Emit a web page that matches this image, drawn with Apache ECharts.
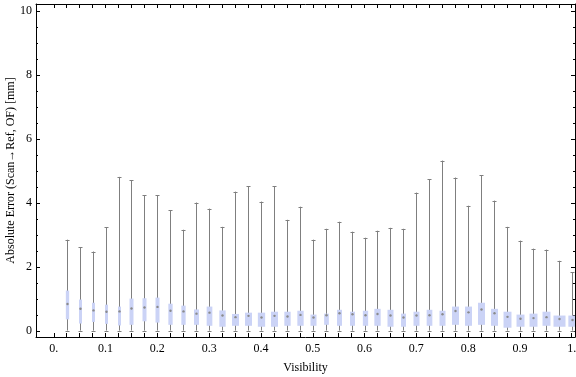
<!DOCTYPE html>
<html>
<head>
<meta charset="utf-8">
<script src="https://cdn.jsdelivr.net/npm/echarts@6.0.0/dist/echarts.min.js"></script>
<style>
  html, body { margin: 0; padding: 0; background: #fff; }
  #chart { width: 576px; height: 377px; }
</style>
</head>
<body>
<div id="chart"></div>
<script>
// Box positions (visibility) and their statistics
const visibility = [0.025, 0.05, 0.075, 0.1, 0.125, 0.15, 0.175, 0.2, 0.225, 0.25,
  0.275, 0.3, 0.325, 0.35, 0.375, 0.4, 0.425, 0.45, 0.475, 0.5,
  0.525, 0.55, 0.575, 0.6, 0.625, 0.65, 0.675, 0.7, 0.725, 0.75,
  0.775, 0.8, 0.825, 0.85, 0.875, 0.9, 0.925, 0.95, 0.975, 1.0];

const whiskerLow = [0.02, 0.02, 0.02, 0.02, 0.02, 0.02, 0.02, 0.02, 0.02, 0.02,
  0.02, 0.02, 0.02, 0.02, 0.02, 0.02, 0.02, 0.02, 0.02, 0.02,
  0.02, 0.02, 0.02, 0.02, 0.02, 0.02, 0.02, 0.02, 0.02, 0.02,
  0.02, 0.02, 0.02, 0.02, 0.02, 0.02, 0.02, 0.02, 0.02, 0.02];

const quartile1 = [0.37, 0.24, 0.29, 0.23, 0.18, 0.20, 0.31, 0.27, 0.20, 0.20,
  0.20, 0.17, 0.14, 0.17, 0.17, 0.14, 0.14, 0.17, 0.17, 0.17,
  0.20, 0.17, 0.17, 0.17, 0.17, 0.14, 0.14, 0.17, 0.17, 0.17,
  0.20, 0.17, 0.20, 0.17, 0.11, 0.14, 0.14, 0.17, 0.14, 0.14];

const median = [0.85, 0.70, 0.65, 0.61, 0.62, 0.71, 0.74, 0.76, 0.64, 0.62,
  0.55, 0.58, 0.49, 0.44, 0.48, 0.43, 0.48, 0.46, 0.51, 0.43,
  0.50, 0.56, 0.53, 0.50, 0.54, 0.49, 0.43, 0.49, 0.50, 0.53,
  0.63, 0.59, 0.68, 0.56, 0.45, 0.39, 0.41, 0.44, 0.38, 0.35];

const quartile3 = [1.27, 0.99, 0.89, 0.83, 0.77, 1.02, 1.03, 1.05, 0.86, 0.80,
  0.68, 0.77, 0.65, 0.54, 0.58, 0.58, 0.61, 0.61, 0.64, 0.52,
  0.55, 0.67, 0.61, 0.64, 0.70, 0.67, 0.55, 0.61, 0.67, 0.64,
  0.77, 0.77, 0.89, 0.70, 0.61, 0.52, 0.55, 0.61, 0.49, 0.49];

const whiskerHigh = [2.86, 2.62, 2.49, 3.24, 4.82, 4.71, 4.24, 4.24, 3.78, 3.17,
  4.02, 3.83, 3.26, 4.36, 4.53, 4.05, 4.53, 3.48, 3.89, 2.86,
  3.20, 3.42, 3.11, 2.92, 3.14, 3.23, 3.20, 4.33, 4.74, 5.33,
  4.80, 3.92, 4.87, 4.08, 3.26, 2.83, 2.58, 2.55, 2.20, 1.85];

// box width in visibility units (varies per box)
const boxWidth = [0.0064, 0.0058, 0.0058, 0.0058, 0.0058, 0.0077, 0.0077, 0.0077, 0.0083, 0.0083,
  0.0097, 0.0110, 0.0122, 0.0135, 0.0135, 0.0141, 0.0135, 0.0122, 0.0122, 0.0116,
  0.0091, 0.0097, 0.0097, 0.0102, 0.0122, 0.0116, 0.0097, 0.0116, 0.0110, 0.0116,
  0.0135, 0.0135, 0.0135, 0.0135, 0.0154, 0.0154, 0.0154, 0.0154, 0.0232, 0.0160];

// Tick labels
const xTickLabels = [0, 0.1, 0.2, 0.3, 0.4, 0.5, 0.6, 0.7, 0.8, 0.9, 1];
const yTickLabels = [0, 2, 4, 6, 8, 10];

const X_MIN = -0.0343, X_MAX = 1.0063;
const Y_MIN = -0.18, Y_MAX = 10.22;

const xMinorTicks = [];
for (let i = 0; i <= 40; i++) xMinorTicks.push(+(i * 0.025).toFixed(3));
const yMinorTicks = [];
for (let i = 1; i < 20; i++) if (i % 4 !== 0) yMinorTicks.push(i * 0.5);

const boxData = visibility.map((v, i) =>
  [v, whiskerLow[i], quartile1[i], median[i], quartile3[i], whiskerHigh[i], boxWidth[i]]);

const FONT = '"Liberation Serif", "DejaVu Serif", serif';
const WHISKER = '#7f7f7f';
const BOX = '#cbd3f6';

function renderBox(params, api) {
  const x = api.value(0);
  const pLo = api.coord([x, api.value(1)]);
  const pQ1 = api.coord([x, api.value(2)]);
  const pMed = api.coord([x, api.value(3)]);
  const pQ3 = api.coord([x, api.value(4)]);
  const pHi = api.coord([x, api.value(5)]);
  const bw = api.size([api.value(6), 0])[0];
  const cx = Math.round(pLo[0]) + 0.5;
  const cap = 2;
  return {
    type: 'group',
    children: [
      { type: 'line', shape: { x1: cx, y1: pLo[1], x2: cx, y2: pHi[1] },
        style: { stroke: WHISKER, lineWidth: 1 } },
      { type: 'line', shape: { x1: cx - cap, y1: Math.round(pHi[1]) + 0.5, x2: cx + cap, y2: Math.round(pHi[1]) + 0.5 },
        style: { stroke: WHISKER, lineWidth: 1 } },
      { type: 'line', shape: { x1: cx - cap, y1: Math.round(pLo[1]) + 0.5, x2: cx + cap, y2: Math.round(pLo[1]) + 0.5 },
        style: { stroke: WHISKER, lineWidth: 1 } },
      { type: 'rect', shape: { x: cx - bw / 2, y: pQ3[1], width: bw, height: pQ1[1] - pQ3[1] },
        style: { fill: BOX } },
      { type: 'circle', shape: { cx: cx, cy: pMed[1], r: 1.2 },
        style: { fill: '#8a8a8a' } }
    ]
  };
}

const chart = echarts.init(document.getElementById('chart'));

const lineStyle = { color: '#000', width: 1 };

const option = {
  animation: false,
  grid: { left: 36, right: 1, top: 4, bottom: 40, outerBoundsMode: 'none', containLabel: false },
  xAxis: [
    {
      type: 'value', position: 'bottom', min: X_MIN, max: X_MAX,
      name: 'Visibility', nameLocation: 'middle', nameGap: 25, nameMoveOverlap: false,
      nameTextStyle: { fontFamily: FONT, fontSize: 12, color: '#000' },
      axisLine: { show: true, onZero: false, lineStyle: lineStyle },
      axisTick: { show: true, inside: true, length: 4, customValues: xMinorTicks, lineStyle: lineStyle },
      axisLabel: {
        customValues: xTickLabels, margin: 6,
        fontFamily: FONT, fontSize: 12, color: '#000',
        formatter: v => (v === 0 ? '0.' : v === 1 ? '1.' : v.toFixed(1))
      },
      splitLine: { show: false }
    },
    {
      type: 'value', position: 'top', min: X_MIN, max: X_MAX,
      axisLine: { show: true, onZero: false, lineStyle: lineStyle },
      axisTick: { show: true, inside: true, length: 4, customValues: xMinorTicks, lineStyle: lineStyle },
      axisLabel: { show: false },
      splitLine: { show: false }
    }
  ],
  yAxis: [
    {
      type: 'value', position: 'left', offset: 0, min: Y_MIN, max: Y_MAX,
      name: 'Absolute Error (Scan\u2192Ref, OF) [mm]', nameLocation: 'middle', nameGap: 19, nameMoveOverlap: false,
      nameTextStyle: { fontFamily: FONT, fontSize: 12, color: '#000' },
      axisLine: { show: true, onZero: false, lineStyle: lineStyle },
      axisTick: { show: true, inside: true, length: 4, customValues: yTickLabels, lineStyle: lineStyle },
      axisLabel: { customValues: yTickLabels, margin: 4, fontFamily: FONT, fontSize: 12, color: '#000' },
      splitLine: { show: false }
    },
    {
      type: 'value', position: 'left', offset: 0, min: Y_MIN, max: Y_MAX,
      axisLine: { show: false, onZero: false },
      axisTick: { show: true, inside: true, length: 2, customValues: yMinorTicks, lineStyle: lineStyle },
      axisLabel: { show: false },
      splitLine: { show: false }
    },
    {
      type: 'value', position: 'right', offset: 0, min: Y_MIN, max: Y_MAX,
      axisLine: { show: true, onZero: false, lineStyle: lineStyle },
      axisTick: { show: true, inside: true, length: 4, customValues: yTickLabels, lineStyle: lineStyle },
      axisLabel: { show: false },
      splitLine: { show: false }
    },
    {
      type: 'value', position: 'right', offset: 0, min: Y_MIN, max: Y_MAX,
      axisLine: { show: false, onZero: false },
      axisTick: { show: true, inside: true, length: 2, customValues: yMinorTicks, lineStyle: lineStyle },
      axisLabel: { show: false },
      splitLine: { show: false }
    }
  ],
  series: [
    {
      type: 'custom',
      xAxisIndex: 0,
      yAxisIndex: 0,
      clip: true,
      renderItem: renderBox,
      encode: { x: 0, y: [1, 2, 3, 4, 5] },
      data: boxData
    }
  ]
};

chart.setOption(option);
</script>
</body>
</html>
